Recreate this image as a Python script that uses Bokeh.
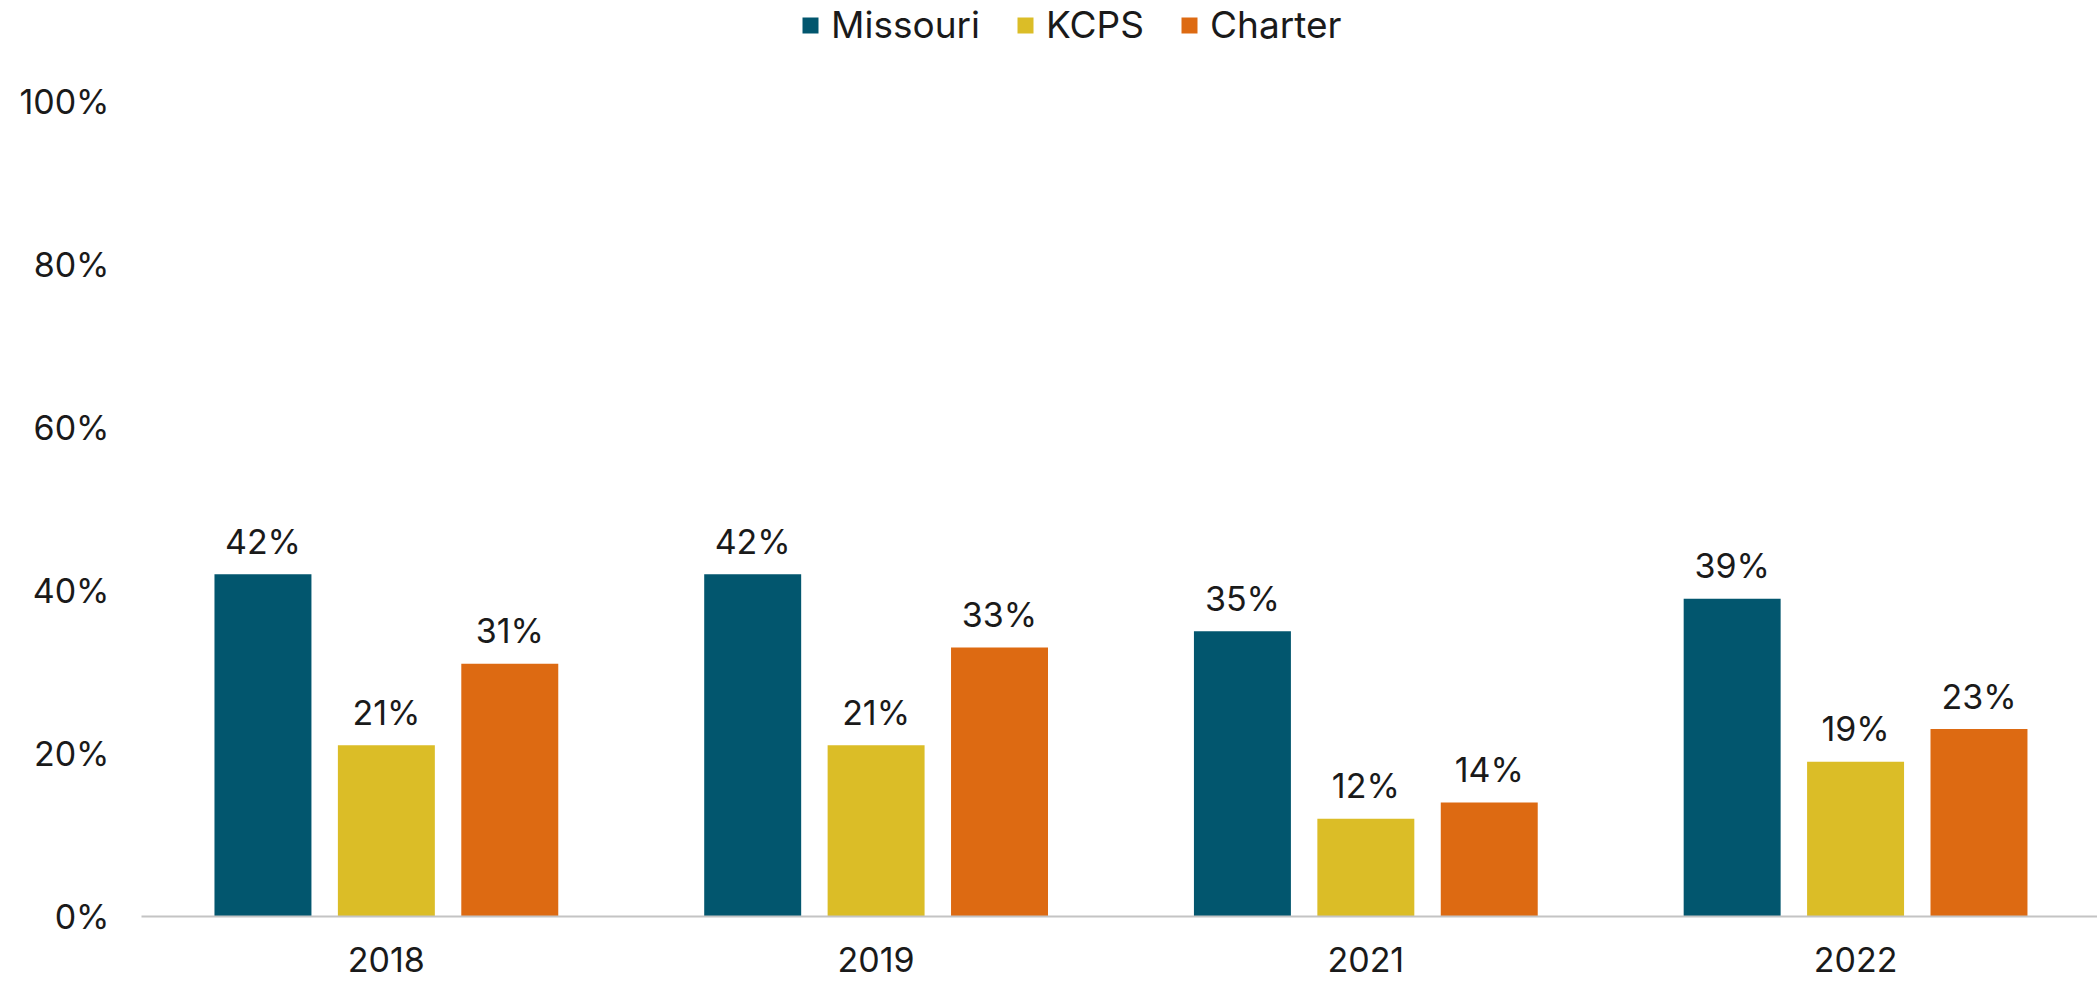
from bokeh.plotting import figure
from bokeh.models import (ColumnDataSource, Range1d, FixedTicker, PrintfTickFormatter,
                          Legend, LegendItem)
from bokeh.core.properties import value
from bokeh.embed import file_html
from bokeh.resources import INLINE

years = ["2018", "2019", "2021", "2022"]
series = ["Missouri", "KCPS", "Charter"]
missouri = [42, 42, 35, 39]
kcps = [21, 21, 12, 19]
charter = [31, 33, 14, 23]
colors = ["#02566E", "#DBBD27", "#DD6A12"]
y_ticks = [0, 20, 40, 60, 80, 100]

FONT = "Inter"
TXT = "#1a1a1a"
FS = "34px"

p = figure(width=2097, height=983, output_backend="svg", toolbar_location=None,
           x_range=Range1d(0, 3.994), y_range=Range1d(0, 112.4),
           min_border_left=141, min_border_right=0, min_border_top=0, min_border_bottom=67)
p.outline_line_color = None
p.grid.grid_line_color = None
p.background_fill_color = "white"
p.border_fill_color = "white"

offsets = [-0.252, 0.0, 0.252]
items = []
for name, vals, col, off in zip(series, [missouri, kcps, charter], colors, offsets):
    xs = [i + 0.5 + off for i in range(len(years))]
    src = ColumnDataSource(dict(x=xs, top=vals, label=[f"{v}%" for v in vals]))
    r = p.vbar(x="x", top="top", width=0.198, source=src, fill_color=col, line_color=None)
    p.text(x="x", y="top", text="label", source=src, text_align="center",
           text_baseline="alphabetic", y_offset=-33, text_font=value(FONT),
           text_font_size=FS, text_color=TXT)
    items.append(LegendItem(label=name, renderers=[r]))

legend = Legend(items=items, orientation="horizontal", location=(659, 869),
                glyph_width=20, glyph_height=20, label_standoff=11, spacing=35,
                padding=0, margin=0, border_line_color=None, background_fill_alpha=0,
                label_text_font=FONT, label_text_font_size="37px", label_text_color=TXT)
p.add_layout(legend)

xa = p.xaxis[0]
xa.ticker = FixedTicker(ticks=[i + 0.5 for i in range(len(years))])
xa.major_label_overrides = {i + 0.5: y for i, y in enumerate(years)}
xa.axis_line_color = "#c4c4c4"
xa.axis_line_width = 2
xa.major_tick_line_color = None
xa.minor_tick_line_color = None
xa.major_label_standoff = 24
xa.major_label_text_font = FONT
xa.major_label_text_font_size = FS
xa.major_label_text_color = TXT

ya = p.yaxis[0]
ya.ticker = FixedTicker(ticks=y_ticks)
ya.formatter = PrintfTickFormatter(format="%d%%")
ya.axis_line_color = None
ya.major_tick_line_color = None
ya.minor_tick_line_color = None
ya.major_label_standoff = 26
ya.major_label_text_font = FONT
ya.major_label_text_font_size = FS
ya.major_label_text_color = TXT

open("out.html", "w").write(file_html(p, INLINE))
